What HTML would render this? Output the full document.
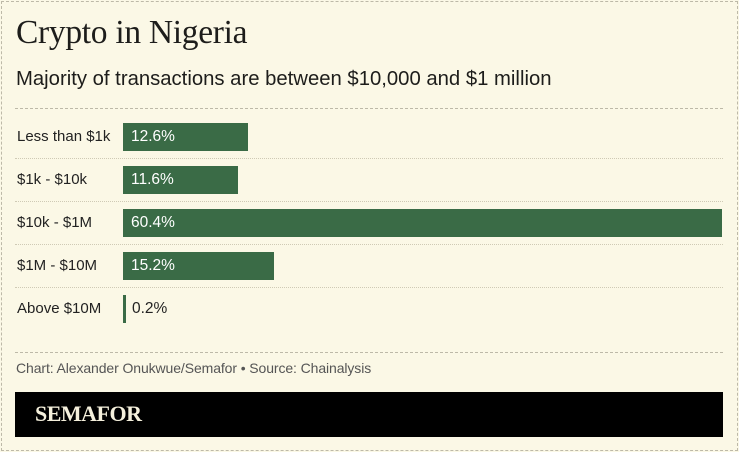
<!DOCTYPE html>
<html><head><meta charset="utf-8"><style>
*{margin:0;padding:0;box-sizing:border-box}
body{width:739px;height:452px;background:#fbf8e6;position:relative;overflow:hidden;font-family:"Liberation Sans",sans-serif;color:#222}
.frame{position:absolute;left:1px;top:1px;width:737px;height:450px;border:1px dashed #bdb9a8}
.t{position:absolute;left:16px;top:14px;font-family:"Liberation Serif",serif;font-size:33.5px;color:#1d1d1b;letter-spacing:-0.3px}
.s{position:absolute;left:16px;top:68px;font-size:20.3px;color:#1d1d1b}
.dash{position:absolute;left:15px;width:708px;border-top:1px dashed #bdb9a8}
.dot{position:absolute;left:15px;width:708px;border-top:1px dotted #cfcab5}
.lab{position:absolute;left:17px;font-size:15px;color:#222;line-height:28px}
.bar{position:absolute;left:123px;height:28px;background:#3a6b46}
.v{position:absolute;font-size:15.5px;line-height:28px;color:#fff}
.src{position:absolute;left:16px;top:360px;font-size:14px;color:#555;letter-spacing:-0.1px}
.blk{position:absolute;left:15px;top:392px;width:708px;height:45px;background:#000}
.logo{position:absolute;left:35px;top:401px;font-family:"Liberation Serif",serif;font-weight:bold;font-size:22px;color:#f5f0dc;letter-spacing:-0.5px}
</style></head><body>
<div class="frame"></div>
<div class="t">Crypto in Nigeria</div>
<div class="s">Majority of transactions are between $10,000 and $1 million</div>
<div class="dash" style="top:108px"></div>
<div class="lab" style="top:123px">Less than $1k</div>
<div class="bar" style="top:123px;width:125px"></div><div class="v" style="left:131px;top:123px">12.6%</div>
<div class="dot" style="top:158px"></div>
<div class="lab" style="top:166px">$1k - $10k</div>
<div class="bar" style="top:166px;width:115px"></div><div class="v" style="left:131px;top:166px">11.6%</div>
<div class="dot" style="top:201px"></div>
<div class="lab" style="top:209px">$10k - $1M</div>
<div class="bar" style="top:209px;width:599px"></div><div class="v" style="left:131px;top:209px">60.4%</div>
<div class="dot" style="top:244px"></div>
<div class="lab" style="top:252px">$1M - $10M</div>
<div class="bar" style="top:252px;width:151px"></div><div class="v" style="left:131px;top:252px">15.2%</div>
<div class="dot" style="top:287px"></div>
<div class="lab" style="top:295px">Above $10M</div>
<div class="bar" style="top:295px;width:3px"></div><div class="v" style="left:132px;top:295px;color:#222">0.2%</div>
<div class="dash" style="top:352px"></div>
<div class="src">Chart: Alexander Onukwue/Semafor • Source: Chainalysis</div>
<div class="blk"></div>
<div class="logo">SEMAFOR</div>
</body></html>
